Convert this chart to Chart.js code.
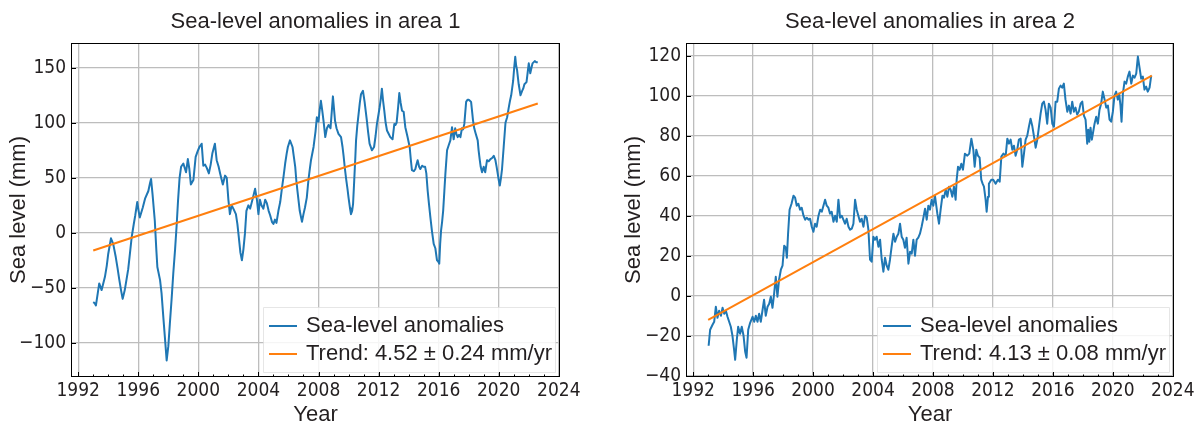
<!DOCTYPE html>
<html>
<head>
<meta charset="utf-8">
<title>Sea-level anomalies</title>
<script src="https://cdn.jsdelivr.net/npm/chart.js@4.4.1/dist/chart.umd.min.js"></script>
<style>
  html, body { margin: 0; padding: 0; background: #fff; }
  #wrap { position: relative; width: 1199px; height: 424px; }
  #wrap canvas { position: absolute; top: 0; }
  #area1 { left: 0; }
  #area2 { left: 600px; }
</style>
</head>
<body>
<div id="wrap">
  <canvas id="area1" width="600" height="424"></canvas>
  <canvas id="area2" width="599" height="424"></canvas>
</div>
<script>
/* ---- Data ---- */

// Area 1: monthly-ish sea-level anomalies (mm)
const years1 = [
  1993.00, 1993.10, 1993.18, 1993.30, 1993.40, 1993.56, 1993.78, 1993.90, 1994.00, 1994.18,
  1994.33, 1994.50, 1994.62, 1994.73, 1994.85, 1994.96, 1995.10, 1995.33, 1995.45, 1995.56,
  1995.70, 1995.80, 1995.93, 1996.02, 1996.10, 1996.30, 1996.45, 1996.67, 1996.78, 1996.85,
  1996.95, 1997.10, 1997.20, 1997.27, 1997.45, 1997.55, 1997.67, 1997.80, 1997.89, 1998.00,
  1998.10, 1998.22, 1998.33, 1998.45, 1998.56, 1998.65, 1998.75, 1998.85, 1999.00, 1999.18,
  1999.30, 1999.40, 1999.50, 1999.67, 1999.82, 1999.95, 2000.07, 2000.22, 2000.33, 2000.45,
  2000.56, 2000.70, 2000.82, 2000.93, 2001.10, 2001.22, 2001.35, 2001.45, 2001.63, 2001.78,
  2001.89, 2002.00, 2002.10, 2002.22, 2002.33, 2002.50, 2002.60, 2002.67, 2002.80, 2002.90,
  2003.00, 2003.10, 2003.20, 2003.33, 2003.45, 2003.60, 2003.78, 2003.90, 2004.00, 2004.10,
  2004.20, 2004.33, 2004.45, 2004.56, 2004.68, 2004.78, 2004.90, 2005.00, 2005.10, 2005.20,
  2005.33, 2005.45, 2005.56, 2005.68, 2005.78, 2005.88, 2005.96, 2006.10, 2006.27, 2006.35,
  2006.45, 2006.52, 2006.60, 2006.75, 2006.90, 2007.00, 2007.10, 2007.22, 2007.33, 2007.42,
  2007.50, 2007.67, 2007.80, 2007.89, 2008.00, 2008.08, 2008.16, 2008.25, 2008.35, 2008.45,
  2008.56, 2008.67, 2008.80, 2008.96, 2009.10, 2009.20, 2009.33, 2009.50, 2009.60, 2009.67,
  2009.76, 2009.85, 2009.93, 2010.00, 2010.10, 2010.16, 2010.24, 2010.30, 2010.38, 2010.45,
  2010.50, 2010.58, 2010.67, 2010.75, 2010.83, 2010.96, 2011.07, 2011.15, 2011.22, 2011.30,
  2011.40, 2011.56, 2011.70, 2011.80, 2011.89, 2012.00, 2012.07, 2012.15, 2012.22, 2012.30,
  2012.38, 2012.47, 2012.56, 2012.67, 2012.78, 2012.93, 2013.05, 2013.12, 2013.20, 2013.30,
  2013.38, 2013.47, 2013.56, 2013.67, 2013.78, 2013.93, 2014.07, 2014.15, 2014.22, 2014.35,
  2014.45, 2014.52, 2014.60, 2014.70, 2014.78, 2014.90, 2015.00, 2015.10, 2015.18, 2015.27,
  2015.35, 2015.45, 2015.55, 2015.67, 2015.78, 2015.89, 2015.97, 2016.04, 2016.10, 2016.16,
  2016.23, 2016.30, 2016.38, 2016.45, 2016.56, 2016.68, 2016.78, 2016.89, 2017.00, 2017.10,
  2017.18, 2017.27, 2017.36, 2017.45, 2017.55, 2017.63, 2017.71, 2017.83, 2017.92, 2018.00,
  2018.08, 2018.16, 2018.23, 2018.29, 2018.37, 2018.45, 2018.60, 2018.66, 2018.73, 2018.80,
  2018.89, 2019.00, 2019.10, 2019.22, 2019.33, 2019.45, 2019.56, 2019.67, 2019.78, 2019.86,
  2019.93, 2020.00, 2020.07, 2020.15, 2020.22, 2020.33, 2020.45, 2020.56, 2020.67, 2020.75,
  2020.83, 2020.96, 2021.03, 2021.10, 2021.16, 2021.22, 2021.33, 2021.45, 2021.56, 2021.63,
  2021.71, 2021.85, 2021.93, 2022.00, 2022.10, 2022.18, 2022.25, 2022.40, 2022.50, 2022.60
];
const level1 = [
  -63, -64, -66, -55, -46, -52, -40, -30, -19, -5,
  -10, -22, -32, -42, -52, -60, -52, -33, -18, -4,
  8, 16, 28, 20, 14, 23, 31, 38, 45, 49,
  35, 11, -15, -31, -43, -55, -77, -100, -116, -103,
  -83, -60, -37, -15, 8, 30, 50, 60, 63, 55,
  67, 58, 44, 48, 69, 74, 78, 81, 61, 62,
  59, 54, 62, 72, 81, 66, 60, 54, 44, 52,
  50, 30, 17, 25, 22, 17, 8, -1, -18, -25,
  -15, -1, 20, 25, 22, 30, 40, 30, 17, 30,
  25, 22, 30, 27, 20, 16, 10, 8, 12, 9,
  20, 28, 40, 52, 63, 72, 78, 84, 78, 70,
  60, 48, 38, 20, 10, 17, 23, 32, 48, 58,
  66, 78, 92, 105, 101, 112, 120, 111, 100, 87,
  95, 98, 95, 124, 102, 95, 90, 87, 78, 70,
  58, 48, 40, 32, 22, 17, 20, 26, 48, 68,
  84, 97, 108, 118, 126, 129, 119, 110, 102, 92,
  81, 75, 78, 88, 99, 108, 114, 122, 131, 120,
  111, 100, 93, 90, 87, 85, 99, 98, 100, 114,
  127, 118, 111, 110, 96, 87, 78, 66, 57, 56,
  58, 62, 66, 60, 58, 61, 60, 60, 54, 38,
  27, 14, 2, -10, -14, -25, -26, -28, -10, 2,
  10, 20, 38, 54, 75, 80, 84, 96, 85, 95,
  90, 87, 89, 87, 95, 94, 99, 119, 121, 121,
  120, 119, 110, 102, 95, 91, 84, 75, 67, 60,
  55, 60, 55, 66, 65, 67, 68, 70, 66, 60,
  54, 48, 43, 50, 58, 78, 100, 105, 114, 120,
  125, 138, 150, 160, 152, 148, 135, 125, 129, 131,
  135, 137, 146, 154, 145, 150, 154, 156, 155, 155
];
const trendYears1 = [1993.0, 2022.6];
const trendLevel1 = [-16, 117.5];

// Area 2
const years2 = [
  1993.03, 1993.13, 1993.29, 1993.40, 1993.51, 1993.62, 1993.73, 1993.85, 1993.96, 1994.07,
  1994.18, 1994.29, 1994.40, 1994.51, 1994.62, 1994.73, 1994.80, 1994.91, 1995.00, 1995.13,
  1995.24, 1995.36, 1995.47, 1995.56, 1995.67, 1995.80, 1995.96, 1996.07, 1996.18, 1996.29,
  1996.40, 1996.51, 1996.62, 1996.73, 1996.84, 1996.96, 1997.07, 1997.18, 1997.29, 1997.40,
  1997.51, 1997.62, 1997.73, 1997.85, 1997.96, 1998.07, 1998.18, 1998.25, 1998.33, 1998.43,
  1998.56, 1998.69, 1998.80, 1998.91, 1999.02, 1999.13, 1999.24, 1999.36, 1999.47, 1999.58,
  1999.69, 1999.80, 1999.91, 2000.02, 2000.13, 2000.24, 2000.36, 2000.47, 2000.58, 2000.69,
  2000.80, 2000.91, 2001.02, 2001.13, 2001.24, 2001.36, 2001.47, 2001.58, 2001.69, 2001.80,
  2001.91, 2002.02, 2002.13, 2002.24, 2002.36, 2002.47, 2002.58, 2002.69, 2002.80, 2002.91,
  2003.02, 2003.13, 2003.24, 2003.36, 2003.47, 2003.58, 2003.69, 2003.80, 2003.91, 2004.02,
  2004.13, 2004.24, 2004.36, 2004.47, 2004.58, 2004.69, 2004.80, 2004.91, 2005.02, 2005.13,
  2005.24, 2005.36, 2005.47, 2005.58, 2005.69, 2005.80, 2005.91, 2006.02, 2006.13, 2006.24,
  2006.36, 2006.47, 2006.58, 2006.69, 2006.80, 2006.91, 2007.02, 2007.13, 2007.24, 2007.36,
  2007.47, 2007.58, 2007.69, 2007.80, 2007.91, 2008.02, 2008.13, 2008.29, 2008.40, 2008.51,
  2008.63, 2008.73, 2008.85, 2008.96, 2009.07, 2009.18, 2009.29, 2009.40, 2009.51, 2009.58,
  2009.67, 2009.78, 2009.89, 2010.00, 2010.13, 2010.29, 2010.42, 2010.56, 2010.69, 2010.78,
  2010.89, 2011.00, 2011.11, 2011.22, 2011.31, 2011.40, 2011.51, 2011.58, 2011.67, 2011.73,
  2011.89, 2012.02, 2012.18, 2012.33, 2012.45, 2012.56, 2012.70, 2012.85, 2012.96, 2013.07,
  2013.18, 2013.29, 2013.40, 2013.51, 2013.62, 2013.73, 2013.85, 2013.96, 2014.07, 2014.18,
  2014.29, 2014.40, 2014.51, 2014.62, 2014.73, 2014.85, 2014.96, 2015.07, 2015.18, 2015.29,
  2015.40, 2015.51, 2015.62, 2015.73, 2015.85, 2015.96, 2016.07, 2016.18, 2016.29, 2016.40,
  2016.51, 2016.62, 2016.73, 2016.84, 2016.96, 2017.07, 2017.18, 2017.29, 2017.40, 2017.51,
  2017.62, 2017.73, 2017.85, 2017.96, 2018.07, 2018.18, 2018.29, 2018.36, 2018.43, 2018.51,
  2018.60, 2018.69, 2018.78, 2018.89, 2019.00, 2019.11, 2019.22, 2019.33, 2019.45, 2019.56,
  2019.67, 2019.78, 2019.89, 2020.00, 2020.11, 2020.22, 2020.33, 2020.42, 2020.51, 2020.58,
  2020.67, 2020.78, 2020.89, 2021.00, 2021.11, 2021.23, 2021.34, 2021.45, 2021.56, 2021.67,
  2021.78, 2021.89, 2022.00, 2022.11, 2022.22, 2022.33, 2022.45, 2022.56
];
const level2 = [
  -25, -17, -14.5, -13, -5.5, -11, -7.5, -10, -6, -9,
  -7.5, -10.5, -13, -15.5, -20, -27, -32, -22, -15.5, -19,
  -15.5, -20, -28, -31, -17, -13.5, -10.5, -13, -10, -13,
  -9, -13, -7.5, -2, -10, -5.5, -4, -0.5, -6, 1,
  9.5, -0.5, 8, 13, 15, 25, 24, 19, 31, 43,
  46, 50, 49, 45, 46, 43, 44, 40, 38, 39,
  38, 38.5, 34.5, 32, 36, 34.5, 40, 43, 42, 45,
  48, 45, 44, 41, 42, 37, 40, 37, 48, 39,
  40, 38, 36, 38.5, 34.5, 33, 33.5, 36, 48, 43,
  40, 37, 38.5, 34.5, 40, 39, 33, 18, 17, 29.5,
  28, 29.5, 24.5, 28, 18, 12, 19, 15, 13, 18,
  24.5, 31, 27, 29.5, 31, 36, 29.5, 28, 24, 29,
  16, 22, 21, 28, 20, 28, 29, 31, 34.5, 39,
  43.5, 38, 45, 43, 48, 45, 50, 41, 36, 43,
  50, 49, 53, 49.5, 54.5, 53, 49.5, 54.5, 48, 58,
  64.5, 63, 66, 63, 71, 70, 71, 78.5, 73, 64.5,
  73, 70, 69, 58, 56, 54.5, 48, 42, 49.5, 56,
  58, 58, 56, 58, 57, 69.5, 71, 70, 78.5, 76,
  78, 73, 75, 70, 73, 78, 78.5, 64.5, 71, 78,
  80, 84.5, 88.5, 85, 80, 74, 78, 84.5, 91, 96,
  97, 93, 86, 96, 94, 86, 84.5, 97, 97, 103.5,
  105, 104, 106, 98, 92, 95, 91, 97, 92, 94,
  90.5, 92, 96, 97, 90, 88, 76, 83, 77, 84,
  78, 82, 86, 89.5, 86, 93, 96, 102, 98, 94,
  95, 88, 87, 92, 100, 102, 98, 101, 95, 87,
  101, 107, 106, 109.5, 112, 106, 110, 109, 111, 119.5,
  114, 108.5, 109.5, 103, 104.5, 102, 104, 110
];
const trendYears2 = [1993.0, 2022.6];
const trendLevel2 = [-12, 110];

// axis limits and ticks
const yearLimits = [1991.52, 2024.08];
const yearStep = 4;
const levelLimits1 = [-131, 172.5];
const levelStep1 = 50;
const levelLimits2 = [-40.6, 126.3];
const levelStep2 = 20;

/* ---- Styling ---- */
const textColor = '#231f20';
const gridColor = '#bdbdbd';
const sansFamily = '"Liberation Sans", Arial, Helvetica, sans-serif';
const narrowFamily = '"Liberation Sans Narrow", "DejaVu Sans Condensed", "Arial Narrow", sans-serif';

Chart.defaults.font.family = sansFamily;
Chart.defaults.color = textColor;

function toPoints(xs, ys) {
    return xs.map(function (x, i) { return { x: x, y: ys[i] }; });
}

// frame, inward ticks, in-axes legend and the panel title
const panelDecor = {
    id: 'panelDecor',
    afterDatasetsDraw(chart, args, opts) {
        const ctx = chart.ctx;
        const a = chart.chartArea;
        const xs = chart.scales.x, ys = chart.scales.y;
        ctx.save();

        // legend box (lower right)
        ctx.fillStyle = 'rgba(255,255,255,0.85)';
        ctx.strokeStyle = 'rgba(220,220,220,0.7)';
        ctx.lineWidth = 1;
        ctx.beginPath();
        ctx.rect(a.right - 296.5, a.bottom - 69.5, 292, 65);
        ctx.fill();
        ctx.stroke();
        ctx.font = '22px ' + sansFamily;
        ctx.textAlign = 'left';
        ctx.textBaseline = 'alphabetic';
        chart.data.datasets.forEach(function (ds, i) {
            const yy = a.bottom - 51 + i * 28;
            ctx.strokeStyle = ds.borderColor;
            ctx.lineWidth = 2;
            ctx.beginPath();
            ctx.moveTo(a.right - 291, yy);
            ctx.lineTo(a.right - 263, yy);
            ctx.stroke();
            ctx.fillStyle = textColor;
            ctx.fillText(ds.label, a.right - 254, a.bottom - 45.5 + i * 28.5);
        });

        // frame
        ctx.strokeStyle = '#000';
        ctx.lineWidth = 1;
        ctx.strokeRect(a.left + 0.5, a.top + 0.5, a.right - a.left - 1, a.bottom - a.top - 1);

        // inward ticks: yearly minor, 4-yearly major on x; major on y
        ctx.beginPath();
        for (let yr = Math.ceil(xs.min); yr <= Math.floor(xs.max); yr++) {
            const px = Math.round(xs.getPixelForValue(yr)) + 0.5;
            const len = yr % yearStep === 0 ? 5 : 2.5;
            ctx.moveTo(px, a.bottom);
            ctx.lineTo(px, a.bottom - len);
        }
        ys.ticks.forEach(function (t) {
            const py = Math.round(ys.getPixelForValue(t.value)) + 0.5;
            ctx.moveTo(a.left, py);
            ctx.lineTo(a.left + 5, py);
        });
        ctx.stroke();

        // title centred on the axes
        ctx.fillStyle = textColor;
        ctx.font = '22px ' + sansFamily;
        ctx.textAlign = 'center';
        ctx.fillText(opts.text, (a.left + a.right) / 2, 28);
        ctx.restore();
    }
};

function makePanel(canvasId, p) {
    return new Chart(document.getElementById(canvasId), {
        type: 'line',
        data: {
            datasets: [
                {
                    label: 'Sea-level anomalies',
                    data: toPoints(p.years, p.levels),
                    borderColor: '#1f77b4',
                    borderWidth: 2,
                    borderJoinStyle: 'round',
                    pointRadius: 0,
                    order: 1
                },
                {
                    label: p.trendLabel,
                    data: toPoints(p.trendYears, p.trendLevels),
                    borderColor: '#ff7f0e',
                    borderWidth: 2,
                    pointRadius: 0,
                    order: 0
                }
            ]
        },
        plugins: [panelDecor],
        options: {
            responsive: false,
            devicePixelRatio: 1,
            animation: false,
            events: [],
            layout: { padding: { left: 0, right: p.padRight, top: 43, bottom: 0 } },
            plugins: {
                legend: { display: false },
                tooltip: { enabled: false },
                title: { display: false },
                panelDecor: { text: p.title }
            },
            scales: {
                x: {
                    type: 'linear',
                    min: yearLimits[0],
                    max: yearLimits[1],
                    afterFit: function (s) { s.height = 47; },
                    grid: { color: gridColor, lineWidth: 1.3, drawTicks: false },
                    border: { display: false },
                    ticks: {
                        stepSize: yearStep,
                        includeBounds: false,
                        autoSkip: false,
                        maxRotation: 0,
                        padding: 3,
                        color: textColor,
                        font: { family: narrowFamily, size: 19 },
                        callback: function (v) { return String(v); }
                    },
                    title: {
                        display: true,
                        text: 'Year',
                        color: textColor,
                        font: { size: 22, lineHeight: 0.8 },
                        padding: { top: 0, bottom: 0 }
                    }
                },
                y: {
                    type: 'linear',
                    min: p.levelLimits[0],
                    max: p.levelLimits[1],
                    afterFit: function (s) { s.width = p.axisWidth; },
                    grid: { color: gridColor, lineWidth: 1.3, drawTicks: false },
                    border: { display: false },
                    ticks: {
                        stepSize: p.levelStep,
                        includeBounds: false,
                        padding: 5,
                        color: textColor,
                        font: { family: narrowFamily, size: 19 },
                        callback: function (v) { return String(v).replace('-', '\u2212'); }
                    },
                    title: {
                        display: true,
                        text: 'Sea level (mm)',
                        color: textColor,
                        font: { size: 22, lineHeight: 1 },
                        padding: { top: p.titlePad, bottom: 0 }
                    }
                }
            }
        }
    });
}

makePanel('area1', {
    title: 'Sea-level anomalies in area 1',
    years: years1, levels: level1,
    trendYears: trendYears1, trendLevels: trendLevel1,
    trendLabel: 'Trend: 4.52 \u00b1 0.24 mm/yr',
    levelLimits: levelLimits1, levelStep: levelStep1,
    axisWidth: 71, titlePad: 8, padRight: 40
});

makePanel('area2', {
    title: 'Sea-level anomalies in area 2',
    years: years2, levels: level2,
    trendYears: trendYears2, trendLevels: trendLevel2,
    trendLabel: 'Trend: 4.13 \u00b1 0.08 mm/yr',
    levelLimits: levelLimits2, levelStep: levelStep2,
    axisWidth: 86, titlePad: 23, padRight: 25
});
</script>
</body>
</html>
